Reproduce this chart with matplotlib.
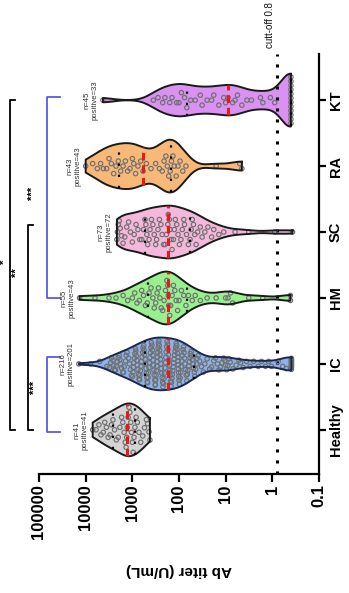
import numpy as np
import matplotlib
matplotlib.use("Agg")
import matplotlib.pyplot as plt
from matplotlib.ticker import FixedLocator, NullLocator

plt.rcParams['font.family'] = ['Liberation Sans', 'DejaVu Sans']

# ---- data (Ab titer, U/mL) ----
groups = ["Healthy", "IC", "HM", "SC", "RA", "KT"]
n_total = [41, 216, 55, 73, 43, 45]
n_positive = [41, 201, 43, 72, 43, 33]
cutoff = 0.8

healthy = [7080, 6000, 5200, 4700, 4200, 3900, 3600, 3300, 3000, 2800,
           2600, 2400, 2200, 2000, 1850, 1700, 1600, 1500, 1420, 1360,
           1320,
           1280, 1230, 1180, 1130, 1080, 1040, 1000, 960, 920, 880,
           830, 780, 720, 660, 600, 550, 500, 470, 440, 420]

ic = [14000, 7900, 5000, 3500,
      3100, 2900, 2800, 2600, 2500, 2400, 2300, 2200, 2100, 2000,
      1900, 1850, 1800, 1700, 1600, 1550, 1500, 1400, 1350, 1300,
      1200, 1150, 1100, 1050,
      990, 970, 950, 930, 900, 880, 860, 840, 820, 800,
      780, 760, 740, 720, 700, 690, 670, 650, 640, 620,
      600, 590, 570, 560, 550, 530, 520, 510, 500, 490,
      480, 470, 460, 450, 440, 430, 420, 410, 400, 390,
      380, 370, 365, 360, 350, 345, 340, 330, 325, 320,
      315, 310, 305, 300, 295, 290, 285, 280, 275, 270,
      265, 260, 255, 250, 245, 240, 235, 230, 225, 220,
      215, 210, 205, 200, 196, 192, 188, 184, 180, 176,
      172, 168, 164, 160, 157, 154, 151, 148, 145, 142,
      139, 136, 133, 130, 127, 124, 121, 118, 115, 112,
      110, 108, 106, 105, 104, 103, 102, 101, 100,
      98, 95, 92, 90, 87, 85, 82, 80, 78, 76,
      74, 72, 70, 68, 66, 64, 62, 60, 58, 57,
      55, 54, 52, 50, 49, 47, 46, 44, 42, 41,
      39, 36, 33, 30, 28, 25, 22, 20, 18, 16.5,
      15, 14, 13, 12, 11, 10.5, 10, 9.5, 9, 8.5, 8, 7, 6, 5.2,
      4.8, 4.2, 3.6, 3.0, 2.5, 2.0, 1.7, 1.4, 1.2, 1.05,
      0.75, 0.6, 0.5,
      0.39, 0.39, 0.39, 0.39, 0.39, 0.39, 0.39, 0.39, 0.39, 0.39, 0.39, 0.39]

hm = [0.41, 0.41, 1.6, 3.2, 7.1, 7.9, 8.9, 10, 16, 25,
      35, 45, 52, 63, 71, 79, 89, 100, 107, 115,
      123, 132, 141, 151, 158, 166, 170, 174, 182, 195,
      209, 224, 240, 257, 275, 295, 316, 339, 363, 398,
      437, 479, 525, 575, 631, 708, 794, 891, 1000, 1260,
      1580, 2240, 3160, 6310, 13500]

sc = [0.37, 0.89, 3.2, 6.3, 11, 14, 18, 20, 24, 28, 32, 35, 40, 43, 46, 49, 52, 55,
      58,
      63, 69, 76, 79, 85, 91, 98, 105, 112, 120, 126, 132, 141, 148, 155, 162, 170,
      174,
      186, 200, 214, 229, 245, 263, 282, 302, 316, 339, 363, 389, 417, 437, 468, 490, 513,
      537,
      575, 631, 692, 759, 832, 912, 1000, 1100, 1200, 1320, 1450, 1580, 1700, 1820,
      1910, 2000, 2090, 2140]

ra = [10000, 7080, 5620, 4790, 4170, 3550, 3160, 2820, 2510, 2240,
      2000, 1780, 1580, 1410, 1260, 1120, 1000, 933, 851, 759, 661,
      589,
      501, 398, 316, 263, 229, 209, 191, 178, 166, 155,
      145, 135, 126, 115, 105, 95, 83, 71, 16, 5.0, 4.5]

kt = [4270, 355, 282, 224, 200, 158, 141, 112, 100, 89, 76,
      68, 56, 45, 35, 32, 25, 20, 18, 14, 11, 10,
      8.9, 7.1, 6.3, 5.6, 4.5, 3.5, 2.8, 1.8, 1.6, 1.1, 0.89,
      0.4, 0.4, 0.4, 0.4, 0.4, 0.4, 0.4, 0.4, 0.4, 0.4, 0.4, 0.4]

series = [healthy, ic, hm, sc, ra, kt]

fill_colors = ["#d4d4d4", "#8db3ea", "#98f08f", "#f5b8dc", "#f8b877", "#d991f2"]
edge_colors = ["#1a1a1a", "#1b2850", "#1a1a1a", "#1a1a1a", "#1a1a1a", "#1a1a1a"]
dot_color = "#707070"
median_color = "#e41b1b"

# ---- figure / axes ----
W_PX, H_PX = 349, 593
fig = plt.figure(figsize=(W_PX / 100, H_PX / 100), dpi=100)
ax_l, ax_r, ax_t, ax_b = 39, 319, 54, 474
ax = fig.add_axes([ax_l / W_PX, 1 - ax_b / H_PX, (ax_r - ax_l) / W_PX, (ax_b - ax_t) / H_PX])

xmin, xmax = 1e5, 0.1
ylo, yhi = -0.67, 5.7
ax.set_xscale('log')
ax.set_xlim(xmin, xmax)
ax.set_ylim(ylo, yhi)

px_per_dec = (ax_r - ax_l) / (np.log10(xmin) - np.log10(xmax))
px_per_cat = (ax_b - ax_t) / (yhi - ylo)


def kde(logv, grid, bw):
    z = (grid[:, None] - logv[None, :]) / bw
    return np.exp(-0.5 * z ** 2).sum(axis=1)


def binned_scatter(xpx, width_px, binw=8.0, d=5.0):
    """Group points into value bins and spread each bin across the violin."""
    offs = np.zeros(len(xpx))
    bins = np.floor((xpx - xpx.min()) / binw).astype(int)
    for b in np.unique(bins):
        idx = np.where(bins == b)[0]
        idx = idx[np.argsort(xpx[idx])]
        m = len(idx)
        if m == 1:
            continue
        avail = max(np.min(width_px[idx]) * 2 * 0.88, d)
        step = min(d, avail / (m - 1))
        slots = (np.arange(m) - (m - 1) / 2) * step
        # alternate sides so neighbouring values are not stacked in a line
        order = np.r_[np.arange(0, m, 2), np.arange(1, m, 2)[::-1]]
        offs[idx] = slots[order]
    return offs


half_width = 0.40
bw = 0.21

for k, vals in enumerate(series):
    v = np.asarray(vals, dtype=float)
    lv = np.log10(v)
    grid = np.linspace(lv.min(), lv.max(), 300)
    dens = kde(lv, grid, bw)
    w = dens / dens.max() * half_width
    xs = 10 ** grid
    ax.fill_between(xs, k - w, k + w, facecolor=fill_colors[k], edgecolor='none', zorder=1)
    ax.plot(np.r_[xs, xs[::-1], xs[:1]], np.r_[k + w, (k - w)[::-1], k + w[:1]],
            color=edge_colors[k], lw=1.4, zorder=4, solid_joinstyle='round')

    # points spread within the violin
    wpx = np.interp(lv, grid, w) * px_per_cat
    offs = binned_scatter(lv * px_per_dec, wpx) / px_per_cat
    ax.scatter(v, k + offs, s=10, facecolors='none', edgecolors=dot_color,
               linewidths=0.85, zorder=3)

    # median and quartiles
    q1, med, q3 = np.percentile(lv, [25, 50, 75])
    for q, style in ((q1, 'q'), (q3, 'q'), (med, 'm')):
        wq = np.interp(q, grid, w)
        if style == 'm':
            ax.plot([10 ** q, 10 ** q], [k - wq, k + wq], color=median_color, lw=2.2,
                    ls=(0, (2.5, 1.6)), zorder=5, solid_capstyle='butt')
        else:
            ax.plot([10 ** q, 10 ** q], [k - wq, k + wq], color='black', lw=1.6,
                    ls=(0, (1, 4)), zorder=5)

    ax.annotate(f"n={n_total[k]}\npositive={n_positive[k]}", xy=(v.max(), k),
                xytext=(-3, 0), textcoords='offset points', rotation=90,
                ha='right', va='center', multialignment='center',
                fontsize=5.6, color='#333333', linespacing=1.15)

# cut-off line
ax.axvline(cutoff, color='black', lw=2.2, ls=(0, (1, 2.6)), zorder=2)
ax.annotate(f"cutt-off {cutoff}", xy=(1.1, 1.0), xycoords=ax.get_xaxis_transform(),
            xytext=(0, 4), textcoords='offset points', rotation=90,
            ha='center', va='bottom', fontsize=7, color='#111111')

# axes styling
for s in ('left', 'top'):
    ax.spines[s].set_visible(False)
for s in ('bottom', 'right'):
    ax.spines[s].set_linewidth(1.6)

xticks = [1e5, 1e4, 1e3, 1e2, 1e1, 1, 0.1]
xtick_labels = ["100000", "10000", "1000", "100", "10", "1", "0.1"]
ax.xaxis.set_major_locator(FixedLocator(xticks))
ax.xaxis.set_minor_locator(NullLocator())
ax.set_xticklabels(xtick_labels, rotation=90, fontsize=12, fontweight='bold')
ax.tick_params(axis='x', length=5.5, width=1.6, pad=2)

ax.yaxis.tick_right()
ax.set_yticks(range(len(groups)))
ax.set_yticklabels(groups, rotation=90, va='center', fontsize=10.5, fontweight='bold')
ax.tick_params(axis='y', length=5, width=1.6, pad=2)

fig.text(179 / W_PX, 1 - 570 / H_PX, "Ab titer (U/mL)", rotation=180, ha='center',
         va='center', fontsize=11, fontweight='bold')

# significance brackets (x in axes fraction, y in category units)
tr = ax.get_yaxis_transform()
blue = "#5b5be6"
brackets = [(-0.1036, -0.0857, 0.0, 5.0, 'black'),
            (-0.039, -0.021, 0.0, 3.1, 'black'),
            (0.0286, 0.075, 2.0, 5.05, blue),
            (0.0286, 0.075, -0.04, 1.1, blue)]
for x0, x1, y0, y1, c in brackets:
    ax.plot([x1, x0, x0, x1], [y0, y0, y1, y1], color=c, lw=1.3,
            transform=tr, clip_on=False)

stars = [(-0.122, 2.55, "*"), (-0.0786, 2.38, "**"), (-0.021, 3.59, "***"), (-0.014, 0.65, "***")]
for x, y, t in stars:
    ax.text(x, y, t, transform=tr, rotation=90, ha='center', va='center',
            fontsize=8, fontweight='bold', clip_on=False)

fig.savefig("out.png", dpi=100)
